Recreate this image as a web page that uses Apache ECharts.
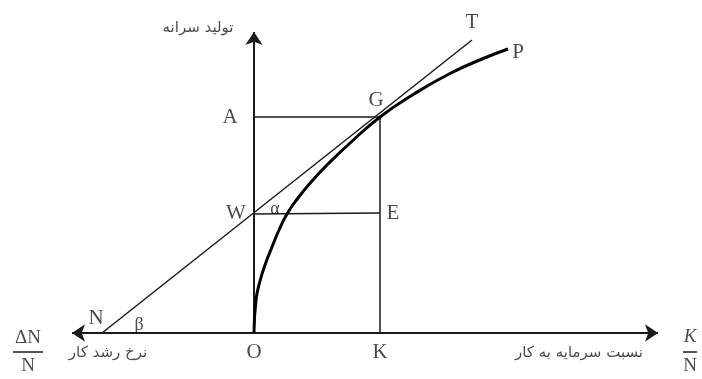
<!DOCTYPE html>
<html>
<head>
<meta charset="utf-8">
<style>
  html, body { margin: 0; padding: 0; background: #fff; }
  #chart { width: 702px; height: 379px; }
</style>
<script src="https://cdn.jsdelivr.net/npm/echarts@6/dist/echarts.min.js"></script>
</head>
<body>
<div id="chart"></div>
<script>
// units: one data unit = one pixel, origin at O
const curveX = [0, 2, 6, 11, 18, 25, 33, 44, 58, 75, 95, 126, 160, 195, 228, 254];
const curveY = [0, 33, 52, 68, 86, 103, 119, 135, 152, 170, 189, 216, 239, 259, 274, 284];

// axes with arrow heads
const axisH = [[-182, 0], [404, 0]];
const axisV = [[0, 0], [0, 301]];

// guide lines
const tangentNT = [[-152, 0], [218, 293]];
const lineAG = [[0, 216], [126, 216]];
const lineGK = [[126, 216], [126, 0]];
const lineWE = [[0, 119], [126, 120]];
const barLeft = [[-241, -19], [-211, -19]];
const barRight = [[429, -19], [443, -19]];

// point letters
const letters = [
  ['A', -24, 216], ['G', 122, 233], ['W', -18, 120], ['E', 139, 120],
  ['N', -158, 15], ['O', 0, -19], ['K', 126, -19], ['T', 218, 311],
  ['P', 264, 281]
];
const greek = [['α', 21, 124], ['β', -115, 8]];
const fracText = [['ΔN', -226, -5], ['N', -226, -33], ['N', 436, -33]];
const fracItalic = [['K', 436, -4]];
const persian = [
  ['تولید سرانه', -56, 305],
  ['نرخ رشد کار', -146, -20],
  ['نسبت سرمایه به کار', 325, -20]
];

const ink = '#1a1a1a';
const serif = 'Liberation Serif';

function seg(c, w) {
  return { coords: c, lineStyle: { width: w, color: ink, opacity: 1 } };
}

function textSeries(items, size, family, style) {
  return {
    type: 'scatter',
    symbolSize: 0,
    silent: true,
    data: items.map(d => ({ name: d[0], value: [d[1], d[2]] })),
    label: {
      show: true,
      position: 'inside',
      formatter: p => p.name,
      color: ink,
      fontSize: size,
      fontFamily: family,
      fontStyle: style || 'normal'
    }
  };
}

const chart = echarts.init(document.getElementById('chart'));
chart.setOption({
  animation: false,
  grid: { left: 0, right: 0, top: 0, bottom: 0 },
  xAxis: { type: 'value', min: -254, max: 448, show: false },
  yAxis: { type: 'value', min: -46, max: 333, show: false },
  series: [
    {
      type: 'lines',
      coordinateSystem: 'cartesian2d',
      silent: true,
      symbol: ['arrow', 'arrow'],
      symbolSize: 13,
      data: [seg(axisH, 2)]
    },
    {
      type: 'lines',
      coordinateSystem: 'cartesian2d',
      silent: true,
      symbol: ['none', 'arrow'],
      symbolSize: 13,
      data: [seg(axisV, 2)]
    },
    {
      type: 'lines',
      coordinateSystem: 'cartesian2d',
      silent: true,
      data: [
        seg(tangentNT, 1.5), seg(lineAG, 1.5), seg(lineGK, 1.5),
        seg(lineWE, 1.5), seg(barLeft, 1.5), seg(barRight, 1.5)
      ]
    },
    {
      type: 'line',
      smooth: 0.5,
      showSymbol: false,
      silent: true,
      lineStyle: { width: 3, color: '#000' },
      data: curveX.map((x, i) => [x, curveY[i]])
    },
    textSeries(letters, 21, serif),
    textSeries(greek, 18, serif),
    textSeries(fracText, 19, serif),
    textSeries(fracItalic, 19, serif, 'italic'),
    textSeries(persian, 15, 'DejaVu Sans')
  ]
});
</script>
</body>
</html>
